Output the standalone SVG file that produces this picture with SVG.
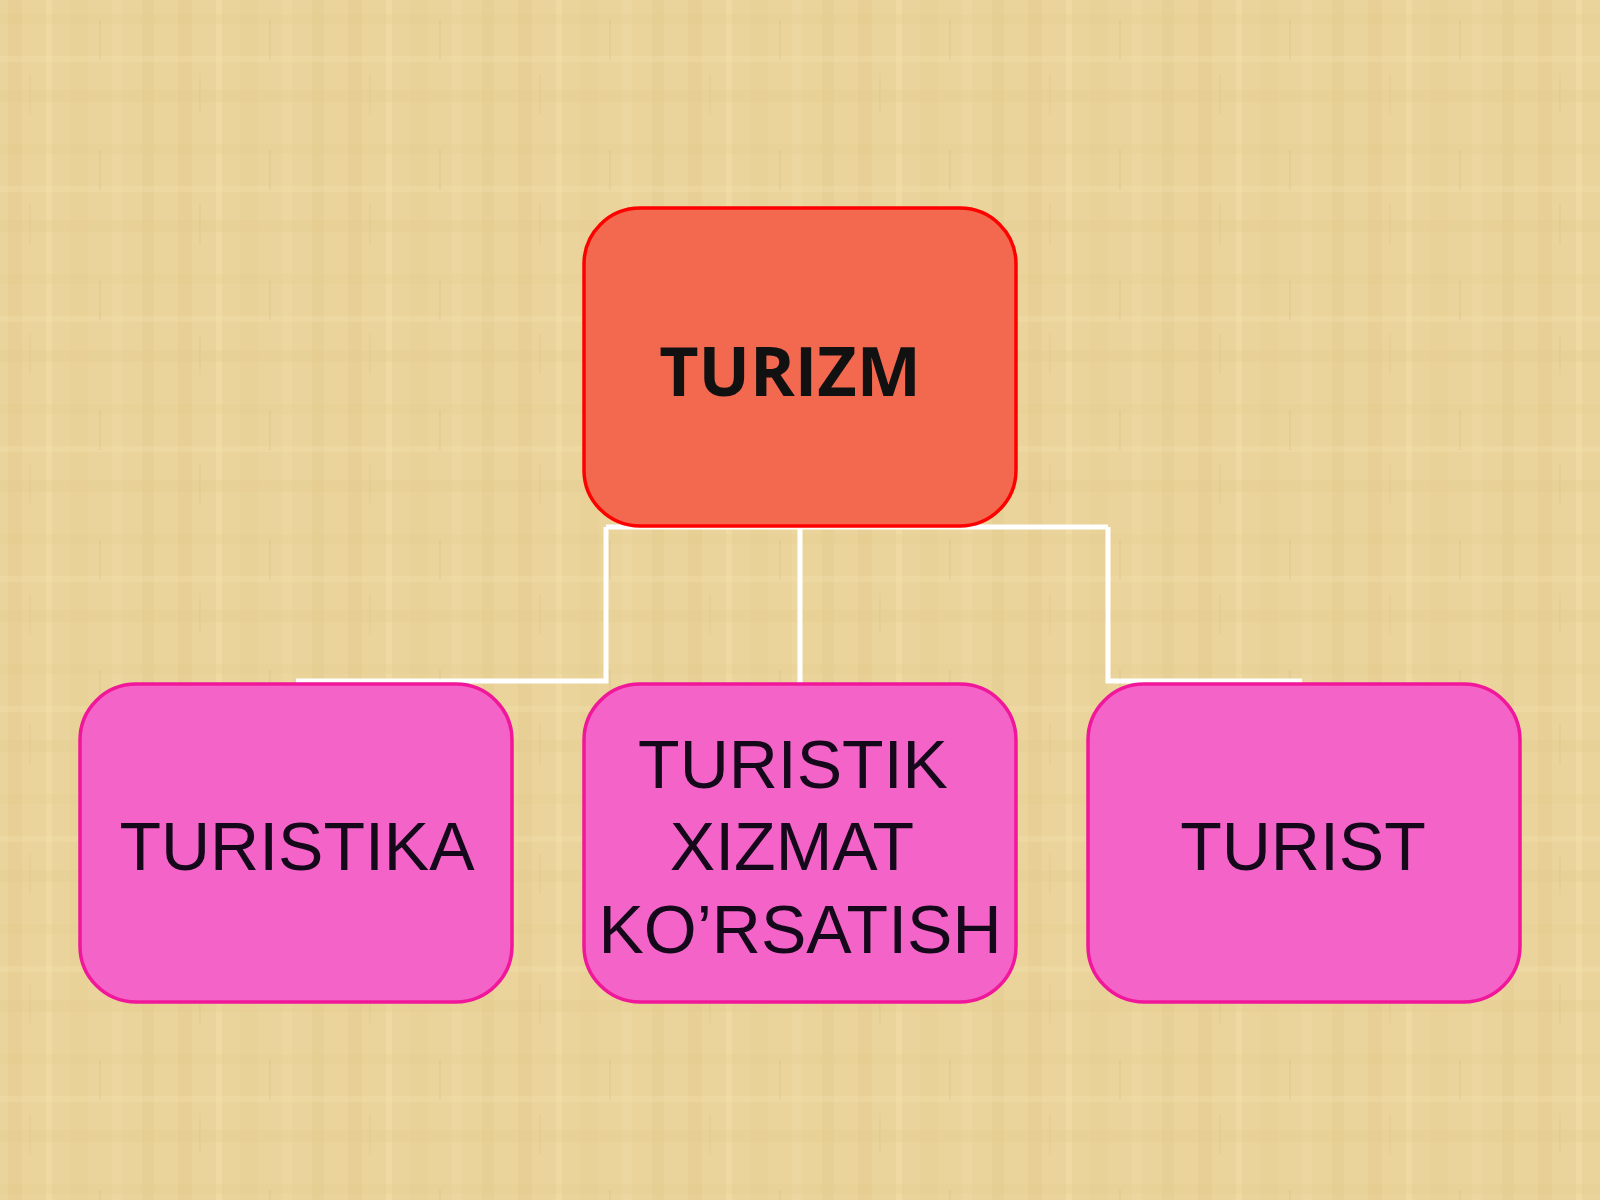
<svg xmlns="http://www.w3.org/2000/svg" width="1600" height="1200" viewBox="0 0 1600 1200">
<defs>
<pattern id="weave" x="0" y="0" width="170" height="130" patternUnits="userSpaceOnUse">
<rect width="170" height="130" fill="#EAD49B"/>
<rect x="8" y="0" width="14" height="130" fill="#E4CB8E" opacity="0.45"/>
<rect x="46" y="0" width="6" height="130" fill="#F2DFAA" opacity="0.5"/>
<rect x="70" y="0" width="18" height="130" fill="#E6CF94" opacity="0.4"/>
<rect x="112" y="0" width="10" height="130" fill="#F1DCA6" opacity="0.45"/>
<rect x="142" y="0" width="12" height="130" fill="#E2C98B" opacity="0.35"/>
<rect x="0" y="14" width="170" height="10" fill="#E3CA8C" opacity="0.25"/>
<rect x="0" y="56" width="170" height="6" fill="#F3E0AC" opacity="0.35"/>
<rect x="0" y="90" width="170" height="12" fill="#E2C88A" opacity="0.25"/>
<line x1="100" y1="20" x2="100" y2="60" stroke="#CDB070" stroke-width="1.2" opacity="0.3"/>
<line x1="30" y1="74" x2="30" y2="114" stroke="#CDB070" stroke-width="1.2" opacity="0.25"/>
</pattern>
<style>
.conn{fill:none;stroke:#FFFFFF;stroke-width:5;stroke-linejoin:miter}
.top{fill:#F2694F;stroke:#FF0000;stroke-width:3.5}
.child{fill:#F464C8;stroke:#F0179B;stroke-width:3.5}
.bold{font-family:"Open Sans","Noto Sans","DejaVu Sans",sans-serif;font-weight:700;font-size:68px;fill:#111111;text-anchor:middle}
.lbl{font-family:"Liberation Sans",Arial,sans-serif;font-size:68px;fill:#14081A;text-anchor:middle}
</style>
</defs>
<rect width="1600" height="1200" fill="url(#weave)"/>
<g id="connectors">
<path class="conn" d="M606,527 H1108"/>
<path class="conn" d="M606,527 V681 H296"/>
<path class="conn" d="M800,527 V684"/>
<path class="conn" d="M1108,527 V681 H1302"/>
</g>
<g id="node-turizm">
<rect class="top" x="584" y="208" width="432" height="318" rx="56" ry="56"/>
<text class="bold" x="790" y="396">TURIZM</text>
</g>
<g id="node-turistika">
<rect class="child" x="80" y="684" width="432" height="318" rx="56" ry="56"/>
<text class="lbl" x="297" y="870">TURISTIKA</text>
</g>
<g id="node-xizmat">
<rect class="child" x="584" y="684" width="432" height="318" rx="56" ry="56"/>
<text class="lbl" x="793" y="788">TURISTIK</text>
<text class="lbl" x="792" y="870">XIZMAT</text>
<text class="lbl" x="800" y="953">KO’RSATISH</text>
</g>
<g id="node-turist">
<rect class="child" x="1088" y="684" width="432" height="318" rx="56" ry="56"/>
<text class="lbl" x="1303" y="870">TURIST</text>
</g>
</svg>
